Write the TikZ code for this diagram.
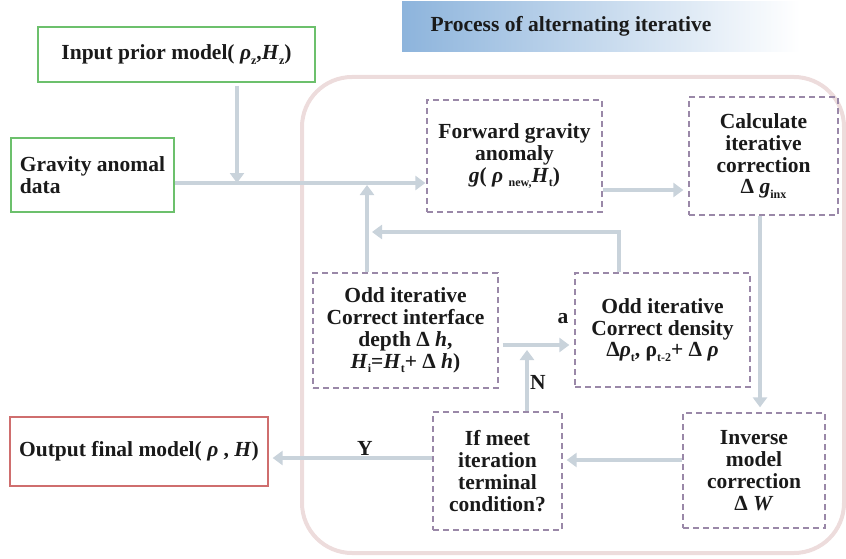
\documentclass[tikz,border=0pt]{standalone}
\usepackage{fontspec}
\setmainfont{Liberation Serif}
\usetikzlibrary{arrows.meta,calc}
\definecolor{arrowc}{HTML}{C9D3DB}
\definecolor{dashc}{HTML}{9A88A8}
\definecolor{greenc}{HTML}{6CC06C}
\definecolor{redc}{HTML}{CF6E6E}
\definecolor{framec}{HTML}{EDDCDC}
\definecolor{bannerc}{HTML}{8DB4DC}
\definecolor{bannermid}{HTML}{B3CFEA}
\definecolor{inkc}{HTML}{1A1A1A}
\newcommand{\boxfont}{\bfseries\fontsize{21.5}{21.8}\selectfont}
\newcommand{\bannerfont}{\bfseries\fontsize{21.5}{22}\selectfont}
% small lowered index text
\newcommand{\idx}[1]{\raisebox{-0.45ex}{\fontsize{12}{12}\selectfont #1}}
\begin{document}
\begin{tikzpicture}[x=1pt,y=-1pt,
  box/.style={draw, line width=1.3pt, inner sep=0pt, align=center, font=\boxfont, text=inkc},
  dbox/.style={box, draw=dashc, dash pattern=on 6pt off 4pt},
  gbox/.style={box, draw=greenc},
  rbox/.style={box, draw=redc},
  arr/.style={draw=arrowc, line width=4.5pt, -{Triangle[width=14pt,length=10pt]}},
  lbl/.style={font=\boxfont, inner sep=0pt, text=inkc}]
\useasboundingbox (0,0) rectangle (846,559);

% heading banner
\shade[left color=bannerc, middle color=bannermid, right color=white] (402,2) rectangle (800,52);
\node[font=\bannerfont, text=inkc] (banner) at (571,26) {Process of alternating iterative};

% frame of the iteration loop
\draw[framec, line width=4pt, rounded corners=50pt] (302,77) rectangle (844,553);

% input and output boxes
\node[gbox, minimum width=277pt, minimum height=55pt] (inp) at (176.5,54.5)
  {Input prior model( \textit{ρ}\idx{z},\textit{H}\idx{z})};
\node[gbox, minimum width=163pt, minimum height=74pt, align=left] (grav) at (92.5,175)
  {Gravity anomal\\data};
\node[rbox, minimum width=258pt, minimum height=69pt] (out) at (139,451.5)
  {Output final model( \textit{ρ} , \textit{H})};

% steps of the loop
\node[dbox, minimum width=175pt, minimum height=112pt] (fwd) at (514.5,156)
  {Forward gravity\\anomaly\\\textit{g}( \textit{ρ} \idx{new,}\textit{H}\idx{t})};
\node[dbox, minimum width=149pt, minimum height=118pt] (calc) at (763.5,156)
  {Calculate\\iterative\\correction\\Δ \textit{g}\idx{inx}};
\node[dbox, minimum width=185pt, minimum height=115pt] (oddL) at (405.5,330.5)
  {Odd iterative\\Correct interface\\depth  Δ \textit{h},\\\textit{H}\idx{i}=\textit{H}\idx{t}+ Δ \textit{h})};
\node[dbox, minimum width=175pt, minimum height=114pt] (oddR) at (662.5,330)
  {Odd  iterative\\Correct density\\Δ\textit{ρ}\idx{t}, ρ\idx{t-2}+ Δ \textit{ρ}};
\node[dbox, minimum width=129pt, minimum height=118pt] (ifb) at (497.5,471)
  {If meet\\iteration\\terminal\\condition?};
\node[dbox, minimum width=142pt, minimum height=115pt] (inv) at (754,470.5)
  {Inverse\\model\\correction\\Δ \textit{W}};

% junction points of the connectors
\coordinate (j1) at (237,183);
\coordinate (j2) at (367,185);
\coordinate (c1) at (619,232);
\coordinate (c2) at (372,232);
\coordinate (r1) at (0,190);
\coordinate (r2) at (760,0);
\coordinate (r3) at (0,460);
\coordinate (r4) at (0,458);
\coordinate (n1) at (527,350);
\coordinate (m1) at (0,345);

% connectors
\draw[arr] ([yshift=-3pt]inp.south -| j1) -- (j1);
\draw[arr] (grav.east |- j1) -- ([xshift=-1pt]fwd.west |- j1);
\draw[arr] (oddL.north -| j2) -- (j2);
\draw[arr] (oddR.north -| c1) -- (c1) -- (c2);
\draw[arr] (fwd.east |- r1) -- ([xshift=-5pt]calc.west |- r1);
\draw[arr] (calc.south -| r2) -- ([yshift=5pt]inv.north -| r2);
\draw[arr] (inv.west |- r3) -- ([xshift=4pt]ifb.east |- r3);
\draw[arr] (ifb.west |- r4) -- ([xshift=4pt]out.east |- r4);
\draw[arr] (ifb.north -| n1) -- (n1);
\draw[arr] ([xshift=4pt]oddL.east |- m1) -- ([xshift=-5pt]oddR.west |- m1);

% connector labels
\node[lbl] (ylab) at (365,448) {Y};
\node[lbl] (nlab) at (538,382) {N};
\node[lbl] (alab) at (563,319) {a};
\end{tikzpicture}
\end{document}
